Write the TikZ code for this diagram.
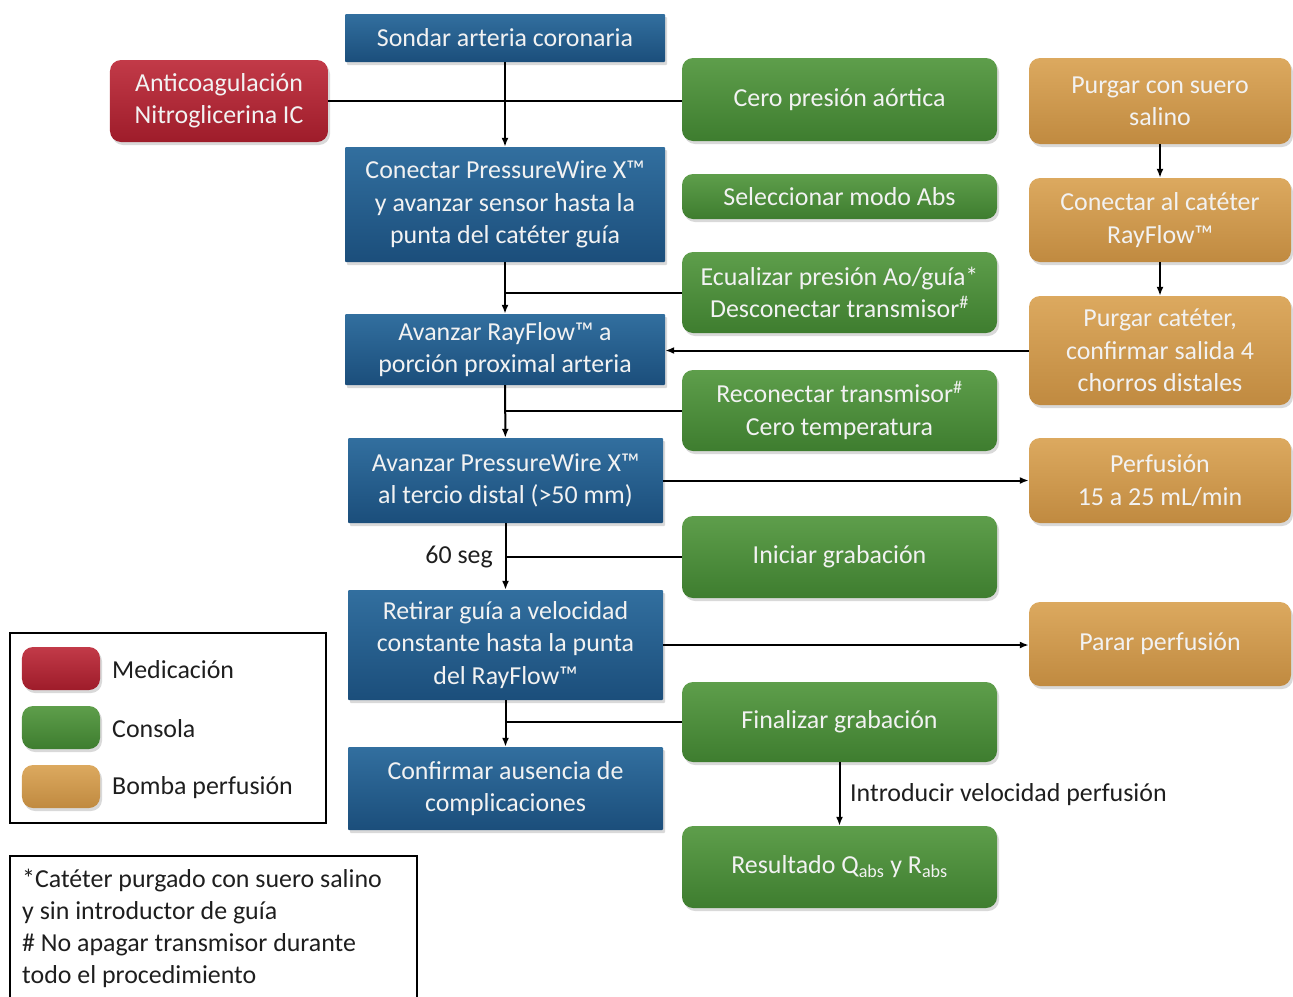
\documentclass[tikz,border=0pt]{standalone}
\usepackage{fontspec}
\setmainfont{Carlito}
\usetikzlibrary{arrows.meta, shadows}

\definecolor{azulA}{HTML}{326F9F}
\definecolor{azulB}{HTML}{1B4E7B}
\definecolor{verdeA}{HTML}{5E9E4B}
\definecolor{verdeB}{HTML}{3E7D2F}
\definecolor{rojoA}{HTML}{C23A48}
\definecolor{rojoB}{HTML}{9E1C2A}
\definecolor{ocreA}{HTML}{DCA95F}
\definecolor{ocreB}{HTML}{C08A40}
\definecolor{texto}{HTML}{1E1E1E}

\tikzset{
  caja/.style={align=center, text=white!95!black, inner sep=0pt,
    font=\fontsize{26}{32.5}\selectfont,
    drop shadow={shadow xshift=2bp, shadow yshift=-3bp, opacity=0.3}},
  azul/.style={caja, top color=azulA, bottom color=azulB, rounded corners=1bp},
  verde/.style={caja, top color=verdeA, bottom color=verdeB, rounded corners=11bp},
  rojo/.style={caja, top color=rojoA, bottom color=rojoB, rounded corners=11bp},
  ocre/.style={caja, top color=ocreA, bottom color=ocreB, rounded corners=11bp},
  etiqueta/.style={text=texto, inner sep=0pt, font=\fontsize{26}{32.5}\selectfont},
  flecha/.style={-{Latex[length=9bp,width=7bp]}, line width=2bp},
  linea/.style={line width=2bp}
}

\begin{document}
\begin{tikzpicture}[x=1bp, y=-1bp]
\useasboundingbox (0,0) rectangle (1293,997);

% columna central
\node[azul, minimum width=320bp, minimum height=48bp] (sondar) at (505,38) {Sondar arteria coronaria};
\node[azul, minimum width=320bp, minimum height=115bp] (conectar) at (505,204.5)
  {Conectar PressureWire X™\\y avanzar sensor hasta la\\punta del catéter guía};
\node[azul, minimum width=320bp, minimum height=71bp] (rayflow) at (505,349.5)
  {Avanzar RayFlow™ a\\porción proximal arteria};
\node[azul, minimum width=315bp, minimum height=85bp] (distal) at (505.5,480.5)
  {Avanzar PressureWire X™\\al tercio distal (>50 mm)};
\node[azul, minimum width=315bp, minimum height=110bp] (retirar) at (505.5,645)
  {Retirar guía a velocidad\\constante hasta la punta\\del RayFlow™};
\node[azul, minimum width=315bp, minimum height=83bp] (confirmar) at (505.5,788.5)
  {Confirmar ausencia de\\complicaciones};

\node[rojo, minimum width=218bp, minimum height=82bp] (medic) at (219,101)
  {Anticoagulación\\Nitroglicerina IC};

% consola
\node[verde, minimum width=315bp, minimum height=83bp] (cero) at (839.5,99.5) {Cero presión aórtica};
\node[verde, minimum width=315bp, minimum height=45bp] (modo) at (839.5,196.5) {Seleccionar modo Abs};
\node[verde, minimum width=315bp, minimum height=81bp] (ecualizar) at (839.5,292.5)
  {Ecualizar presión Ao/guía*\\Desconectar transmisor\textsuperscript{\#}};
\node[verde, minimum width=315bp, minimum height=81bp] (reconectar) at (839.5,410.5)
  {Reconectar transmisor\textsuperscript{\#}\\Cero temperatura};
\node[verde, minimum width=315bp, minimum height=82bp] (iniciar) at (839.5,557) {Iniciar grabación};
\node[verde, minimum width=315bp, minimum height=80bp] (finalizar) at (839.5,722) {Finalizar grabación};
\node[verde, minimum width=315bp, minimum height=82bp] (resultado) at (839.5,867)
  {Resultado Q\textsubscript{abs} y R\textsubscript{abs}};

% bomba de perfusion
\node[ocre, minimum width=262bp, minimum height=86bp] (purgar) at (1160,101) {Purgar con suero\\salino};
\node[ocre, minimum width=262bp, minimum height=84bp] (cateter) at (1160,220) {Conectar al catéter\\RayFlow™};
\node[ocre, minimum width=262bp, minimum height=109bp] (chorros) at (1160,350.5)
  {Purgar catéter,\\confirmar salida 4\\chorros distales};
\node[ocre, minimum width=262bp, minimum height=85bp] (perfusion) at (1160,480.5) {Perfusión\\15 a 25 mL/min};
\node[ocre, minimum width=262bp, minimum height=84bp] (parar) at (1160,644) {Parar perfusión};

% conexiones
\draw[linea] (medic.east) -- (medic.east -| cero.west);
\draw[flecha] (sondar) -- (conectar);
\draw[flecha] (conectar) -- (rayflow);
\draw[flecha] (rayflow) -- (distal);
\draw[flecha] (distal) -- (retirar);
\draw[flecha] (retirar) -- (confirmar);
\draw[linea] (ecualizar.west) -- (ecualizar.west -| conectar.south);
\draw[linea] (reconectar.west) -- (reconectar.west -| rayflow.south);
\draw[linea] (iniciar.west) -- (iniciar.west -| distal.south);
\draw[linea] (finalizar.west) -- (finalizar.west -| retirar.south);
\node[etiqueta, anchor=east] (seg) at (493,557) {60 seg};
\draw[flecha] (chorros.west) -- (chorros.west -| rayflow.east);
\draw[flecha] (distal.east) -- (distal.east -| perfusion.west);
\draw[flecha] (retirar.east) -- (retirar.east -| parar.west);
\draw[flecha] (purgar) -- (cateter);
\draw[flecha] (cateter) -- (chorros);
\draw[flecha] (finalizar) -- (resultado);
\node[etiqueta, anchor=west] (velocidad) at (850,795) {Introducir velocidad perfusión};

% leyenda
\draw[line width=2bp] (10,633) rectangle (326,823);
\node[rojo, minimum width=78bp, minimum height=43bp] (leyrojo) at (61,668.5) {};
\node[verde, minimum width=78bp, minimum height=43bp] (leyverde) at (61,727.5) {};
\node[ocre, minimum width=78bp, minimum height=43bp] (leyocre) at (61,786.5) {};
\node[etiqueta, anchor=west] (txtrojo) at (112,669.5) {Medicación};
\node[etiqueta, anchor=west] (txtverde) at (112,728.5) {Consola};
\node[etiqueta, anchor=west] (txtocre) at (112,788) {Bomba perfusión};

% notas
\draw[line width=2bp] (10,1000) -- (10,856) -- (417,856) -- (417,1000);
\node[etiqueta, anchor=north west, align=left, font=\fontsize{26}{32}\selectfont] (notas) at (22,869)
  {*Catéter purgado con suero salino\\y sin introductor de guía\\\# No apagar transmisor durante\\todo el procedimiento};
\end{tikzpicture}
\end{document}
